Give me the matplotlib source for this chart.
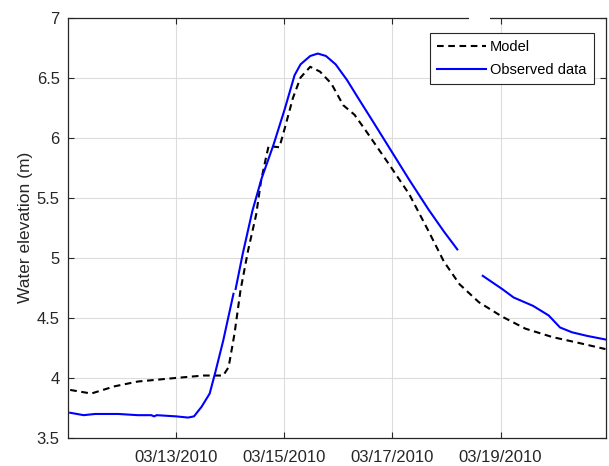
import numpy as np
import matplotlib
matplotlib.use("Agg")
import matplotlib.pyplot as plt
import matplotlib.dates as mdates
from matplotlib.ticker import FuncFormatter, FixedLocator

plt.rcParams['font.family'] = ['Liberation Sans', 'DejaVu Sans']

start = np.datetime64('2010-03-11T00:00')

# Model (days since 03/11/2010 00:00, water elevation m)
model_days = [0.04, 0.43, 0.86, 1.29, 2.00, 2.51, 2.87, 2.97, 3.08, 3.19, 3.33, 3.48,
              3.57, 3.66, 3.71, 3.91, 4.01, 4.16, 4.30, 4.48, 4.66, 4.87, 5.09, 5.30,
              5.52, 5.95, 6.31, 6.67, 6.95, 7.24, 7.60, 8.03, 8.46, 8.96, 9.46, 9.94]
model_vals = [3.90, 3.87, 3.93, 3.97, 4.00, 4.02, 4.02, 4.09, 4.37, 4.73, 5.06, 5.36,
              5.64, 5.83, 5.93, 5.92, 6.08, 6.33, 6.50, 6.59, 6.55, 6.45, 6.27, 6.19,
              6.05, 5.77, 5.53, 5.22, 4.97, 4.78, 4.63, 4.51, 4.41, 4.34, 4.29, 4.24]

# Observed data (NaN marks gaps in the record)
obs_days = [0.04, 0.29, 0.50, 0.93, 1.29, 1.54, 1.59, 1.64, 2.00, 2.22, 2.33, 2.47,
            2.62, 2.72, 2.87, 3.06, 3.08, 3.10, 3.23, 3.41, 3.58, 3.80, 4.01, 4.19,
            4.30, 4.48, 4.62, 4.77, 4.95, 5.16, 5.38, 5.66, 5.95, 6.31, 6.67, 6.95,
            7.20, 7.45, 7.67, 8.03, 8.24, 8.60, 8.89, 9.10, 9.32, 9.60, 9.94]
obs_vals = [3.71, 3.69, 3.70, 3.70, 3.69, 3.69, 3.68, 3.69, 3.68, 3.67, 3.68, 3.76,
            3.87, 4.04, 4.31, 4.70, np.nan, 4.74, 5.03, 5.39, 5.66, 5.94, 6.24, 6.52,
            6.61, 6.68, 6.70, 6.68, 6.61, 6.48, 6.32, 6.12, 5.91, 5.65, 5.40, 5.22,
            5.07, np.nan, 4.85, 4.74, 4.67, 4.60, 4.52, 4.42, 4.38, 4.35, 4.32]

xtick_dates = ['2010-03-13', '2010-03-15', '2010-03-17', '2010-03-19']
ytick_vals = [3.5, 4, 4.5, 5, 5.5, 6, 6.5, 7]


def to_dates(days):
    mins = np.round(np.asarray(days) * 24 * 60).astype(int)
    return start + mins.astype('timedelta64[m]')


fig = plt.figure(figsize=(6.09, 4.66), dpi=100)
ax = fig.add_axes([0.1117, 0.0601, 0.8833, 0.9023])

ax.plot(to_dates(model_days), model_vals, color='black', linestyle=(0, (3.2, 2.2)),
        linewidth=1.5, label='Model')
ax.plot(to_dates(obs_days), obs_vals, color='#0000FF', linewidth=1.5,
        label='Observed data')

ax.set_xlim(start, start + np.timedelta64(int(9.95 * 24 * 60), 'm'))
ax.set_ylim(3.5, 7)
ax.xaxis.set_major_locator(FixedLocator(mdates.date2num(np.array(xtick_dates, dtype='datetime64[D]'))))
ax.xaxis.set_major_formatter(mdates.DateFormatter('%m/%d/%Y'))
ax.set_yticks(ytick_vals)
ax.yaxis.set_major_formatter(FuncFormatter(lambda v, p: '%g' % v))

ax.grid(True, color='#dcdcdc', linewidth=0.8)
ax.set_axisbelow(True)
ax.tick_params(direction='in', length=4, width=0.8, colors='#262626',
               labelsize=12, top=True, right=True, pad=6)
ax.tick_params(axis='x', pad=9)
for s in ax.spines.values():
    s.set_color('#262626')
    s.set_linewidth(0.9)

ax.set_ylabel('Water elevation (m)', fontsize=12.5, color='#262626', labelpad=3)

leg = ax.legend(loc='upper right', bbox_to_anchor=(0.977, 0.963), fontsize=10.5,
                handlelength=3.3, fancybox=False, framealpha=1, borderpad=0.5,
                labelspacing=0.6, handletextpad=0.3, borderaxespad=0)
leg.get_frame().set_edgecolor('#262626')
leg.get_frame().set_linewidth(0.8)

# small gap in the top frame line
fig.patches.append(plt.Rectangle((469 / 609, 1 - 20 / 466), 21 / 609, 6 / 466,
                                 transform=fig.transFigure, facecolor='white',
                                 edgecolor='none', zorder=10))

fig.savefig('out.png', dpi=100)
